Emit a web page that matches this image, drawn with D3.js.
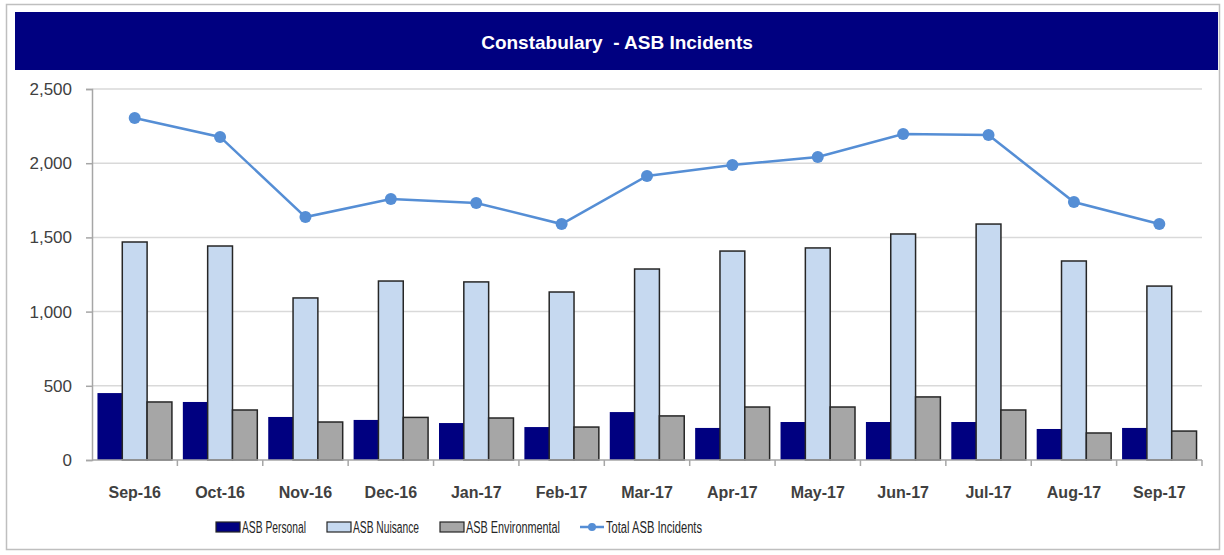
<!DOCTYPE html>
<html>
<head>
<meta charset="utf-8">
<script src="https://cdn.jsdelivr.net/npm/d3@7"></script>
<style>
  body { margin: 0; background: #fff; }
  text { font-family: "Liberation Sans", Arial, sans-serif; }
</style>
</head>
<body>
<script>
// chart data
var months = ["Sep-16", "Oct-16", "Nov-16", "Dec-16", "Jan-17", "Feb-17", "Mar-17",
              "Apr-17", "May-17", "Jun-17", "Jul-17", "Aug-17", "Sep-17"];
var personal = [451, 391, 290, 270, 249, 222, 323, 216, 256, 256, 256, 209, 216];
var nuisance = [1469, 1442, 1092, 1206, 1200, 1132, 1287, 1408, 1429, 1523, 1590, 1341, 1172];
var environmental = [391, 337, 256, 287, 283, 222, 297, 357, 357, 425, 337, 182, 195];
var total = [2305, 2177, 1637, 1759, 1732, 1590, 1914, 1988, 2042, 2197, 2190, 1738, 1590];
var yTicks = [0, 500, 1000, 1500, 2000, 2500];
var seriesNames = ["ASB Personal", "ASB Nuisance", "ASB Environmental"];
var seriesColors = ["#000080", "#c6d9f0", "#a6a6a6"];

var width = 1224, height = 555;

var svg = d3.select("body").append("svg")
  .attr("width", width)
  .attr("height", height)

// outer frame
svg.append("rect")
  .attr("x", 6.5).attr("y", 4.5)
  .attr("width", 1213).attr("height", 545)
  .attr("fill", "#fff")
  .attr("stroke", "#bfbfbf")
  .attr("stroke-width", 1.5);

// title bar
svg.append("rect")
  .attr("x", 15).attr("y", 12)
  .attr("width", 1203).attr("height", 58)
  .attr("fill", "#000080");

svg.append("text")
  .attr("x", 617).attr("y", 49)
  .attr("text-anchor", "middle")
  .attr("fill", "#fff")
  .attr("font-size", 19)
  .attr("font-weight", "bold")
  .style("white-space", "pre")
  .text("Constabulary  - ASB Incidents");

var plotLeft = 92, plotRight = 1202, plotTop = 89, plotBottom = 460;

var x = d3.scaleBand()
  .domain(months)
  .range([plotLeft, plotRight]);

var xInner = d3.scaleBand()
  .domain(seriesNames)
  .range([0, x.bandwidth()])
  .paddingOuter(0.22);

var y = d3.scaleLinear()
  .domain([0, 2500])
  .range([plotBottom, plotTop]);

// gridlines
svg.append("g")
  .selectAll("line")
  .data(yTicks.slice(1))
  .enter().append("line")
    .attr("x1", plotLeft).attr("x2", plotRight)
    .attr("y1", function(d) { return y(d); })
    .attr("y2", function(d) { return y(d); })
    .attr("stroke", "#d9d9d9")
    .attr("stroke-width", 1.5);

// y axis
var yAxis = svg.append("g")
  .attr("transform", "translate(" + plotLeft + ",0)")
  .call(d3.axisLeft(y).tickValues(yTicks).tickSize(6).tickPadding(14)
    .tickFormat(d3.format(",")));
yAxis.select(".domain").attr("stroke", "#a6a6a6").attr("stroke-width", 1.5);
yAxis.selectAll(".tick line").attr("stroke", "#a6a6a6").attr("stroke-width", 1.5);
yAxis.selectAll(".tick text")
  .attr("font-size", 17)
  .attr("fill", "#404040")
  .style("font-family", "Liberation Sans, Arial, sans-serif");

// bars
var groups = svg.append("g")
  .selectAll("g")
  .data(months)
  .enter().append("g")
    .attr("transform", function(d) { return "translate(" + x(d) + ",0)"; });

groups.selectAll("rect")
  .data(function(d, i) {
    return [personal[i], nuisance[i], environmental[i]].map(function(v, k) {
      return { name: seriesNames[k], value: v, color: seriesColors[k] };
    });
  })
  .enter().append("rect")
    .attr("x", function(d) { return xInner(d.name); })
    .attr("width", xInner.bandwidth())
    .attr("y", function(d) { return y(d.value); })
    .attr("height", function(d) { return plotBottom - y(d.value); })
    .attr("fill", function(d) { return d.color; })
    .attr("stroke", function(d, k) { return k == 0 ? "none" : "#262626"; })
    .attr("stroke-width", 1.5);

// x axis (ticks sit between categories)
var xAxisG = svg.append("g");
xAxisG.append("line")
  .attr("x1", plotLeft).attr("x2", plotRight)
  .attr("y1", plotBottom).attr("y2", plotBottom)
  .attr("stroke", "#a6a6a6").attr("stroke-width", 1.5);
xAxisG.selectAll(".sep")
  .data(months)
  .enter().append("line")
    .attr("class", "sep")
    .attr("x1", function(d) { return x(d) + x.bandwidth(); })
    .attr("x2", function(d) { return x(d) + x.bandwidth(); })
    .attr("y1", plotBottom).attr("y2", plotBottom + 6)
    .attr("stroke", "#a6a6a6").attr("stroke-width", 1.5);
xAxisG.selectAll(".lab")
  .data(months)
  .enter().append("text")
    .attr("class", "lab")
    .attr("x", function(d) { return x(d) + x.bandwidth() / 2; })
    .attr("y", 498)
    .attr("text-anchor", "middle")
    .attr("font-size", 16)
    .attr("font-weight", "bold")
    .attr("fill", "#404040")
    .text(function(d) { return d; });

// total line
var line = d3.line()
  .x(function(d, i) { return x(months[i]) + x.bandwidth() / 2; })
  .y(function(d) { return y(d); });

svg.append("path")
  .datum(total)
  .attr("d", line)
  .attr("fill", "none")
  .attr("stroke", "#558ed5")
  .attr("stroke-width", 2.5);

svg.append("g")
  .selectAll("circle")
  .data(total)
  .enter().append("circle")
    .attr("cx", function(d, i) { return x(months[i]) + x.bandwidth() / 2; })
    .attr("cy", function(d) { return y(d); })
    .attr("r", 6)
    .attr("fill", "#558ed5");

// legend
var legendX = [216, 327, 440];
var legendW = [64, 66, 94];
var legend = svg.append("g");
seriesNames.forEach(function(name, k) {
  legend.append("rect")
    .attr("x", legendX[k]).attr("y", 522)
    .attr("width", 24).attr("height", 10)
    .attr("fill", seriesColors[k])
    .attr("stroke", "#262626")
    .attr("stroke-width", 1.2);
  legend.append("text")
    .attr("x", legendX[k] + 26).attr("y", 533)
    .attr("font-size", 16)
    .attr("fill", "#262626")
    .attr("textLength", legendW[k])
    .attr("lengthAdjust", "spacingAndGlyphs")
    .text(name);
});
legend.append("line")
  .attr("x1", 580).attr("x2", 604)
  .attr("y1", 527).attr("y2", 527)
  .attr("stroke", "#558ed5").attr("stroke-width", 2.5);
legend.append("circle")
  .attr("cx", 592).attr("cy", 527).attr("r", 4)
  .attr("fill", "#558ed5");
legend.append("text")
  .attr("x", 606).attr("y", 533)
  .attr("font-size", 16)
  .attr("fill", "#262626")
  .attr("textLength", 96)
  .attr("lengthAdjust", "spacingAndGlyphs")
  .text("Total ASB Incidents");
</script>
</body>
</html>
